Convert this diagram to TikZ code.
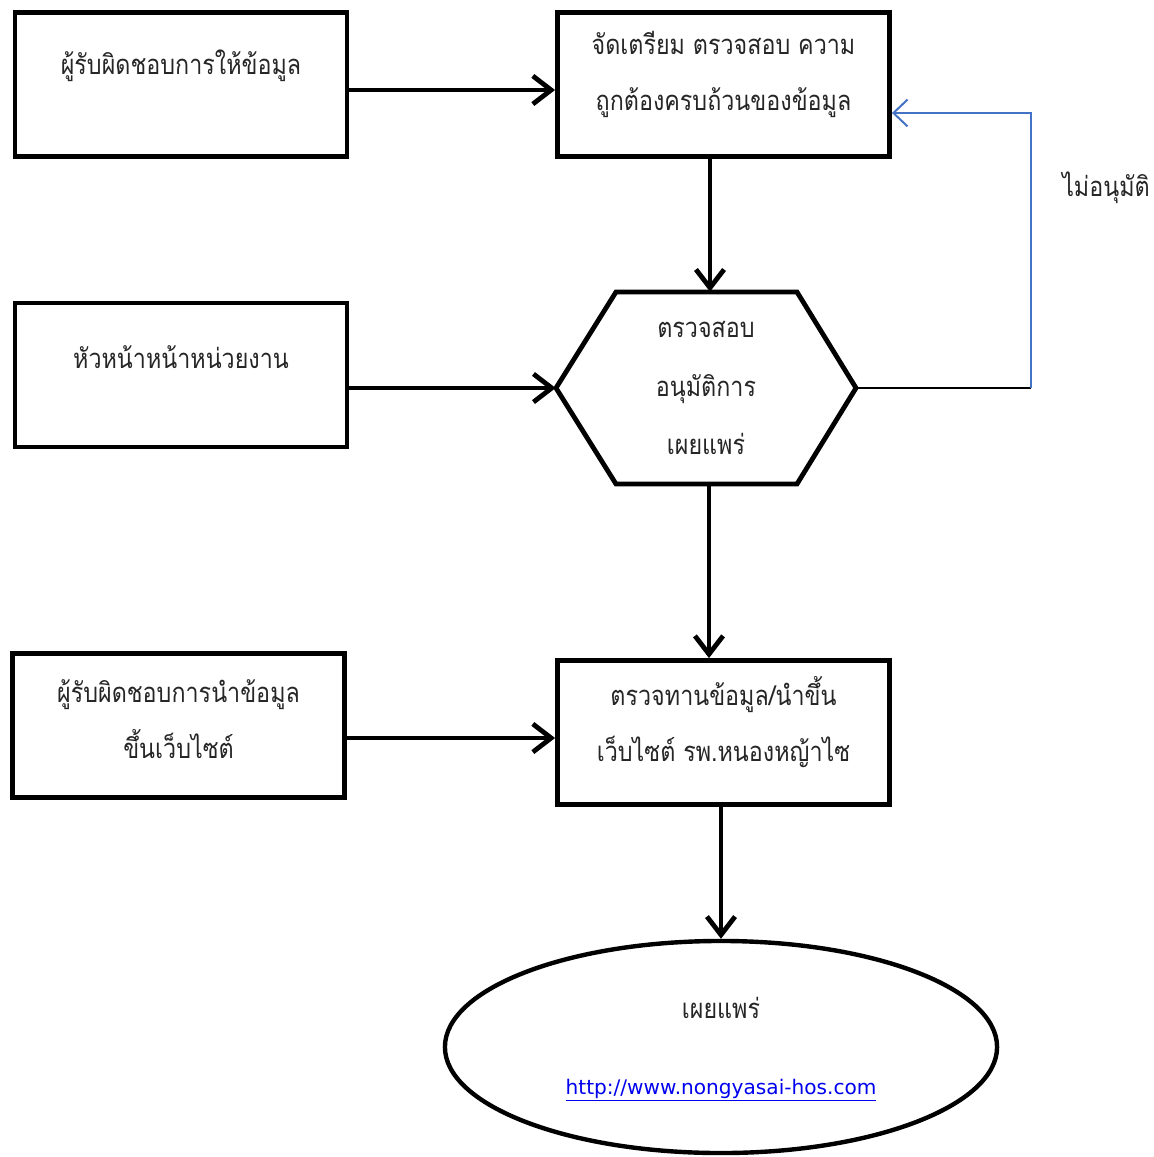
\documentclass[tikz,border=0pt]{standalone}
\usepackage{fontspec}
\usepackage{tikz}
\usetikzlibrary{arrows.meta,shapes.geometric}
\newfontfamily\thaifont[Script=Thai]{Loma}
\newfontfamily\linkfont{DejaVu Sans}
\definecolor{fbblue}{RGB}{68,114,196}
\definecolor{linkblue}{RGB}{0,0,238}

\begin{document}
\begin{tikzpicture}[x=0.025cm,y=-0.025cm,
        box/.style={draw, line width=0.12cm, minimum width=8.3cm, minimum height=3.6cm, inner sep=0pt},
        txt/.style={font=\thaifont\fontsize{19.5}{40}\selectfont, align=center, text=black!85, xscale=0.85, transform shape},
        arr/.style={line width=0.12cm, -{Straight Barb[length=13pt,width=20pt,line width=0.12cm]}},
        fb/.style={fbblue, line width=0.05cm, -{Straight Barb[length=10pt,width=19pt]}}]
        \useasboundingbox (0,0) rectangle (1154,1157);

        % boxes on the left
        \node (boxA) [box] at (181,84.5) {};
        \node (tA) [txt] at (181,66) {ผู้รับผิดชอบการให้ข้อมูล};
        \node (boxC) [box] at (181,375) {};
        \node (tC) [txt] at (181,357) {หัวหน้าหน้าหน่วยงาน};
        \node (boxE) [box] at (178.5,725.5) {};
        \node (tE) [txt] at (178.5,719) {ผู้รับผิดชอบการนำข้อมูล\\ขึ้นเว็บไซต์};

        % boxes on the right
        \node (boxB) [box] at (723.5,84.5) {};
        \node (tB) [txt] at (723.5,74.5) {จัดเตรียม ตรวจสอบ ความ\\ถูกต้องครบถ้วนของข้อมูล};
        \node (boxD) [box] at (723.5,732.5) {};
        \node (tD) [txt] at (723.5,722) {ตรวจทานข้อมูล/นำขึ้น\\เว็บไซต์ รพ.หนองหญ้าไซ};

        % hexagon
        \draw [line width=0.12cm, line join=miter] (616,292) -- (797,292) -- (856,388) -- (797,484)
        -- (616,484) -- (556,388) -- cycle;
        \node (hex) [minimum width=7.5cm, minimum height=4.8cm, inner sep=0pt] at (706,388) {};
        \node (tH) [txt, font=\thaifont\fontsize{19.5}{41.5}\selectfont] at (706,388) {ตรวจสอบ\\อนุมัติการ\\เผยแพร่};

        % ellipse
        \node (ell) [draw, ellipse, line width=0.11cm, minimum width=13.8cm, minimum height=5.3cm] at (721,1047) {};
        \node (tEll) [txt] at (721,1008) {เผยแพร่};
        \node (url) [text=linkblue, font=\linkfont\fontsize{14.3}{18}\selectfont] at (721,1090) {\underline{http://www.nongyasai-hos.com}};

        % connectors
        \draw [arr] (boxA.east |- 0,90) -- (boxB.west |- 0,90);
        \draw [arr] (boxC.east |- hex.west) -- (hex.west);
        \draw [arr] (boxE.east |- 0,738) -- (boxD.west |- 0,738);
        \draw [arr] (hex.north -| 710,0) ++(0,-134) -- (hex.north -| 710,0);
        \draw [arr] (hex.south -| 709,0) -- (boxD.north -| 709,0);
        \draw [arr] (boxD.south -| 721,0) -- (ell.north);

        % not approved
        \coordinate (fbLow) at (1031,388);
        \coordinate (fbHigh) at (1031,113);
        \draw [line width=0.05cm] (hex.east) -- (fbLow);
        \draw [fb] (fbLow) -- (fbHigh) -- (boxB.east |- fbHigh);
        \node (tNo) [txt] at (1106,188) {ไม่อนุมัติ};
    \end{tikzpicture}
\end{document}
